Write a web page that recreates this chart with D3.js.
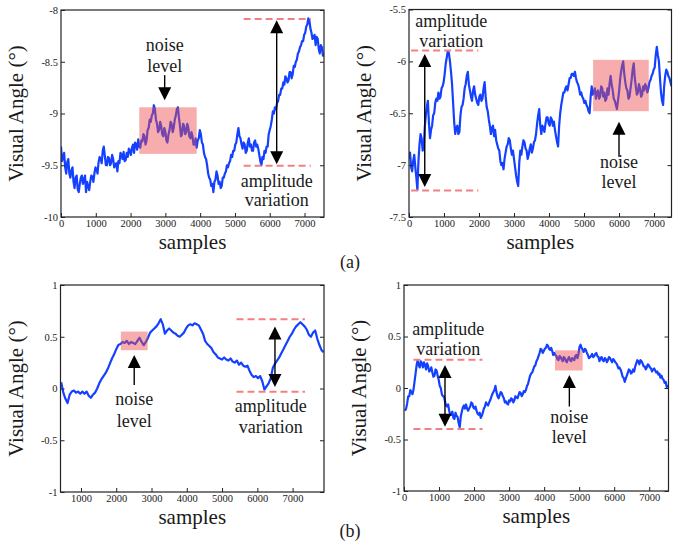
<!DOCTYPE html>
<html>
<head>
<meta charset="utf-8">
<script src="https://cdn.jsdelivr.net/npm/d3@7"></script>
<style>
  html, body { margin: 0; padding: 0; background: #fff; }
  svg { display: block; }
  text { font-family: "Liberation Serif", "Times New Roman", serif; fill: #1a1a1a; }
</style>
</head>
<body>
<svg id="chart" width="680" height="547"></svg>
<script>
// (a) top-left trace, every 30 samples from sample 0
const traceA1 = [
  -9.32,-9.46,-9.42,-9.38,-9.52,-9.58,-9.47,-9.44,-9.58,-9.62,-9.55,-9.52,-9.66,-9.72,-9.62,-9.60,-9.73,-9.76,-9.68,-9.62,
  -9.60,-9.68,-9.64,-9.60,-9.76,-9.66,-9.70,-9.74,-9.66,-9.60,-9.61,-9.66,-9.58,-9.52,-9.54,-9.58,-9.47,-9.42,-9.44,-9.48,
  -9.36,-9.32,-9.41,-9.50,-9.50,-9.42,-9.43,-9.50,-9.48,-9.40,-9.44,-9.52,-9.50,-9.48,-9.56,-9.46,-9.48,-9.38,-9.40,-9.44,
  -9.37,-9.46,-9.45,-9.38,-9.42,-9.34,-9.36,-9.40,-9.33,-9.30,-9.38,-9.28,-9.30,-9.35,-9.25,-9.32,-9.33,-9.26,-9.27,-9.20,
  -9.22,-9.30,-9.26,-9.16,-9.14,-9.06,-9.08,-9.02,-9.00,-8.92,-8.96,-9.06,-9.10,-9.18,-9.16,-9.08,-9.12,-9.20,-9.22,-9.14,
  -9.18,-9.26,-9.28,-9.20,-9.16,-9.08,-9.10,-9.18,-9.14,-9.06,-9.02,-8.96,-8.94,-9.04,-9.12,-9.22,-9.20,-9.10,-9.12,-9.20,
  -9.18,-9.10,-9.14,-9.22,-9.24,-9.18,-9.22,-9.30,-9.30,-9.24,-9.33,-9.26,-9.24,-9.16,-9.20,-9.28,-9.30,-9.38,-9.42,-9.44,
  -9.50,-9.58,-9.62,-9.64,-9.70,-9.68,-9.76,-9.66,-9.64,-9.56,-9.60,-9.68,-9.66,-9.72,-9.70,-9.62,-9.62,-9.58,-9.56,-9.50,
  -9.52,-9.48,-9.46,-9.40,-9.42,-9.36,-9.36,-9.30,-9.28,-9.20,-9.14,-9.22,-9.24,-9.30,-9.34,-9.28,-9.30,-9.38,-9.36,-9.28,
  -9.24,-9.32,-9.30,-9.36,-9.36,-9.28,-9.26,-9.32,-9.30,-9.34,-9.40,-9.46,-9.50,-9.42,-9.44,-9.36,-9.38,-9.32,-9.32,-9.20,
  -9.16,-9.12,-9.06,-8.98,-9.00,-8.94,-8.96,-8.90,-8.88,-8.82,-8.82,-8.76,-8.76,-8.70,-8.72,-8.64,-8.66,-8.70,-8.68,-8.60,
  -8.60,-8.66,-8.62,-8.54,-8.55,-8.50,-8.48,-8.42,-8.40,-8.36,-8.34,-8.30,-8.30,-8.24,-8.22,-8.16,-8.14,-8.08,-8.10,-8.18,
  -8.22,-8.28,-8.26,-8.24,-8.34,-8.26,-8.28,-8.38,-8.42,-8.34,-8.36,-8.44,-8.44];

// (a) top-right trace, every 30 samples from sample 0
const traceA2 = [
  -6.94,-6.88,-7.02,-7.06,-6.96,-6.90,-7.02,-7.12,-7.24,-6.96,-6.80,-6.70,-6.74,-6.86,-6.84,-6.64,-6.52,-6.44,-6.38,-6.60,
  -6.74,-6.66,-6.62,-6.52,-6.50,-6.40,-6.36,-6.38,-6.30,-6.36,-6.34,-6.26,-6.24,-6.20,-6.12,-6.02,-5.96,-5.90,-5.92,-6.00,
  -6.10,-6.22,-6.40,-6.58,-6.70,-6.64,-6.62,-6.70,-6.68,-6.52,-6.44,-6.42,-6.36,-6.26,-6.22,-6.14,-6.10,-6.22,-6.28,-6.34,
  -6.38,-6.28,-6.24,-6.32,-6.36,-6.40,-6.42,-6.34,-6.32,-6.38,-6.36,-6.26,-6.20,-6.34,-6.44,-6.48,-6.56,-6.62,-6.70,-6.64,
  -6.62,-6.72,-6.66,-6.76,-6.80,-6.84,-6.86,-6.96,-7.00,-6.98,-7.04,-6.94,-6.88,-6.82,-6.80,-6.74,-6.76,-6.84,-6.90,-6.86,
  -6.94,-7.02,-7.10,-7.16,-7.20,-6.98,-6.86,-6.90,-6.82,-6.76,-6.78,-6.84,-6.86,-6.94,-6.90,-6.84,-6.80,-6.88,-6.84,-6.78,
  -6.76,-6.70,-6.60,-6.52,-6.46,-6.62,-6.70,-6.62,-6.64,-6.68,-6.60,-6.54,-6.54,-6.60,-6.62,-6.54,-6.56,-6.62,-6.58,-6.66,
  -6.72,-6.78,-6.82,-6.62,-6.50,-6.42,-6.36,-6.30,-6.30,-6.26,-6.24,-6.28,-6.22,-6.16,-6.16,-6.12,-6.12,-6.14,-6.10,-6.16,
  -6.20,-6.22,-6.26,-6.32,-6.30,-6.34,-6.36,-6.40,-6.38,-6.42,-6.44,-6.48,-6.50,-6.34,-6.24,-6.32,-6.30,-6.26,-6.36,-6.30,
  -6.28,-6.36,-6.34,-6.24,-6.26,-6.34,-6.30,-6.38,-6.36,-6.26,-6.32,-6.22,-6.14,-6.22,-6.28,-6.36,-6.38,-6.42,-6.46,-6.38,
  -6.30,-6.18,-6.10,-6.04,-6.00,-6.12,-6.20,-6.26,-6.28,-6.36,-6.34,-6.26,-6.18,-6.08,-6.02,-6.16,-6.24,-6.32,-6.30,-6.22,
  -6.26,-6.34,-6.32,-6.24,-6.28,-6.22,-6.24,-6.30,-6.26,-6.20,-6.18,-6.14,-6.12,-6.08,-6.06,-5.94,-5.86,-5.94,-6.00,-6.16,
  -6.30,-6.38,-6.42,-6.24,-6.14,-6.08,-6.10,-6.14,-6.16,-6.20,-6.24];

// (b) bottom-left trace, every 60 samples from sample 440
const traceB1 = [
  0.06,-0.04,-0.10,-0.14,-0.06,-0.03,-0.02,-0.04,-0.03,-0.05,-0.03,-0.05,-0.03,-0.07,-0.09,-0.06,-0.04,0.00,0.05,0.09,
  0.12,0.15,0.19,0.24,0.29,0.33,0.38,0.42,0.43,0.45,0.44,0.46,0.43,0.45,0.44,0.43,0.46,0.49,0.45,0.42,
  0.45,0.49,0.54,0.56,0.58,0.60,0.63,0.67,0.62,0.53,0.56,0.58,0.56,0.54,0.53,0.51,0.50,0.52,0.54,0.58,
  0.61,0.62,0.61,0.63,0.62,0.61,0.57,0.53,0.46,0.43,0.41,0.39,0.35,0.33,0.30,0.29,0.28,0.30,0.28,0.27,
  0.29,0.26,0.25,0.27,0.23,0.25,0.22,0.21,0.22,0.17,0.13,0.11,0.12,0.10,0.12,0.07,-0.01,0.02,0.05,0.10,
  0.20,0.24,0.27,0.30,0.34,0.38,0.42,0.46,0.50,0.53,0.57,0.60,0.62,0.64,0.62,0.60,0.57,0.52,0.50,0.54,
  0.56,0.48,0.42,0.37,0.35];

// (b) bottom-right trace, every 30 samples from sample 30
const traceB2 = [
  -0.22,-0.20,-0.15,-0.08,-0.08,-0.02,-0.04,-0.06,-0.02,0.06,0.14,0.22,0.27,0.22,0.20,0.26,0.24,0.20,0.25,0.22,
  0.18,0.24,0.21,0.16,0.17,0.20,0.15,0.11,0.12,0.18,0.17,0.12,0.08,0.02,0.00,-0.06,-0.08,-0.08,-0.13,-0.17,
  -0.18,-0.16,-0.22,-0.26,-0.26,-0.23,-0.29,-0.30,-0.24,-0.27,-0.28,-0.34,-0.38,-0.28,-0.23,-0.19,-0.17,-0.20,-0.16,-0.20,
  -0.22,-0.20,-0.18,-0.14,-0.15,-0.19,-0.20,-0.18,-0.22,-0.25,-0.26,-0.24,-0.29,-0.27,-0.24,-0.20,-0.18,-0.14,-0.16,-0.17,
  -0.14,-0.12,-0.09,-0.06,-0.04,-0.02,0.02,-0.04,-0.08,-0.10,-0.07,-0.04,-0.05,-0.08,-0.10,-0.14,-0.13,-0.15,-0.16,-0.12,
  -0.13,-0.10,-0.11,-0.14,-0.12,-0.08,-0.09,-0.10,-0.07,-0.04,-0.05,-0.08,-0.06,-0.03,-0.04,-0.02,0.02,0.04,0.08,0.12,
  0.14,0.15,0.18,0.21,0.22,0.26,0.28,0.31,0.34,0.38,0.37,0.34,0.36,0.38,0.39,0.42,0.41,0.38,0.37,0.39,
  0.36,0.32,0.34,0.32,0.31,0.28,0.27,0.31,0.30,0.28,0.26,0.30,0.29,0.26,0.25,0.28,0.30,0.27,0.26,0.29,
  0.28,0.27,0.31,0.32,0.29,0.33,0.40,0.42,0.39,0.37,0.35,0.38,0.37,0.34,0.32,0.29,0.30,0.31,0.33,0.30,
  0.31,0.33,0.34,0.31,0.30,0.26,0.29,0.30,0.27,0.26,0.29,0.28,0.25,0.27,0.30,0.29,0.27,0.25,0.28,0.27,
  0.25,0.24,0.22,0.19,0.20,0.18,0.15,0.11,0.10,0.06,0.09,0.12,0.15,0.18,0.17,0.14,0.15,0.18,0.16,0.21,
  0.24,0.27,0.26,0.23,0.27,0.26,0.24,0.21,0.21,0.18,0.20,0.23,0.22,0.20,0.19,0.16,0.18,0.19,0.17,0.15,
  0.16,0.13,0.14,0.10,0.12,0.09,0.08,0.05,0.06,0.01,0.03];

const traceStarts = [0, 0, 440, 30];
const traceSteps = [30, 30, 60, 30];

// Axis ticks
const xTicksA1 = [0,1000,2000,3000,4000,5000,6000,7000];
const xTicksA2 = [0,1000,2000,3000,4000,5000,6000,7000];
const xTicksB1 = [1000,2000,3000,4000,5000,6000,7000];
const xTicksB2 = [0,1000,2000,3000,4000,5000,6000,7000];
const yTicksA1 = [-10,-9.5,-9,-8.5,-8];
const yTicksA2 = [-7.5,-7,-6.5,-6,-5.5];
const yTicksB  = [-1,-0.5,0,0.5,1];

// Axis extents
const xDomains = [[0,7560],[0,7500],[420,7890],[0,7550]];
const yDomains = [[-10,-8],[-7.5,-5.5],[-1,1],[-1,1]];

// Noise-level boxes: [x0, x1, y0, y1]
const noiseBoxes = [[2250,3900,-9.39,-8.94],[5260,6850,-6.48,-5.985],[2130,2890,0.37,0.55],[4310,5100,0.17,0.366]];
// Amplitude guides: [x0, x1, yHigh, yLow, arrowX]
const ampGuides = [[5250,7180,-8.087,-9.506,6200],[60,1980,-5.896,-7.245,450],[5410,7350,0.668,-0.032,6500],[270,2240,0.275,-0.398,1170]];
// Double-arrow tips: [yTop, yBottom]
const ampArrowTips = [[-8.10,-9.49],[-5.93,-7.21],[0.60,0.015],[0.223,-0.376]];
// Text labels: [x, baseline1, baseline2]
const ampText = [[6200,-9.71,-9.894],[1210,-5.666,-5.859],[6380,-0.224,-0.433],[1265,0.515,0.32]];
const noiseText = [[2980,-8.394,-8.597],[6000,-7.028,-7.22],[2510,-0.159,-0.369],[4720,-0.343,-0.537]];
// Single arrow: [x, yFrom, yTip]
const noiseArrows = [[2980,-8.629,-8.871],[6000,-6.919,-6.581],[2510,0.034,0.324],[4720,-0.18,0.126]];

const traces = [traceA1, traceA2, traceB1, traceB2];
const xTicksAll = [xTicksA1, xTicksA2, xTicksB1, xTicksB2];
const yTicksAll = [yTicksA1, yTicksA2, yTicksB, yTicksB];

// Plot frames [left, right, top, bottom]
const frames = [[61,324,10,217],[409,671.5,9.5,217],[60.5,324,285,492],[404,668.5,285,491]];

const svg = d3.select("#chart");
const defs = svg.append("defs");

function arrowHead(g, x, yTip, dir) {
  // dir = +1 pointing down, -1 pointing up
  const w = 6.5, h = 13;
  g.append("path")
    .attr("d", `M${x},${yTip} L${x - w},${yTip - dir * h} L${x + w},${yTip - dir * h} Z`)
    .attr("fill", "#000");
}

frames.forEach((f, i) => {
  const [L, R, T, B] = f;
  const x = d3.scaleLinear().domain(xDomains[i]).range([L, R]);
  const y = d3.scaleLinear().domain(yDomains[i]).range([B, T]);
  const g = svg.append("g");

  const clipId = "clip" + i;
  defs.append("clipPath").attr("id", clipId)
    .append("rect").attr("x", L).attr("y", T).attr("width", R - L).attr("height", B - T);

  // Gaze trace
  const data = traces[i].map((v, k) => [traceStarts[i] + k * traceSteps[i], v]);
  g.append("path")
    .datum(data)
    .attr("clip-path", `url(#${clipId})`)
    .attr("fill", "none")
    .attr("stroke", "#1440ff")
    .attr("stroke-width", 2.2)
    .attr("stroke-linejoin", "round")
    .attr("d", d3.line().x(d => x(d[0])).y(d => y(d[1])));

  // Noise-level box
  const nb = noiseBoxes[i];
  g.append("rect")
    .attr("x", x(nb[0])).attr("y", y(nb[3]))
    .attr("width", x(nb[1]) - x(nb[0])).attr("height", y(nb[2]) - y(nb[3]))
    .attr("fill", "#ee4a4a").attr("fill-opacity", 0.45);

  // Amplitude guides
  const ag = ampGuides[i];
  [ag[2], ag[3]].forEach(v => {
    g.append("line")
      .attr("x1", x(ag[0])).attr("x2", x(ag[1]))
      .attr("y1", y(v)).attr("y2", y(v))
      .attr("stroke", "#f28080").attr("stroke-width", 2)
      .attr("stroke-dasharray", "7,4");
  });
  const tips = ampArrowTips[i];
  const ax = x(ag[4]);
  g.append("line")
    .attr("x1", ax).attr("x2", ax)
    .attr("y1", y(tips[0]) + 10).attr("y2", y(tips[1]) - 10)
    .attr("stroke", "#000").attr("stroke-width", 1.4);
  arrowHead(g, ax, y(tips[0]), -1);
  arrowHead(g, ax, y(tips[1]), 1);

  // Noise arrow
  const na = noiseArrows[i];
  const nx = x(na[0]);
  const dir = y(na[2]) > y(na[1]) ? 1 : -1;
  g.append("line")
    .attr("x1", nx).attr("x2", nx)
    .attr("y1", y(na[1])).attr("y2", y(na[2]) - dir * 10)
    .attr("stroke", "#000").attr("stroke-width", 1.4);
  arrowHead(g, nx, y(na[2]), dir);

  // Annotation text
  const at = ampText[i];
  g.append("text").attr("x", x(at[0])).attr("y", y(at[1]))
    .attr("text-anchor", "middle").attr("font-size", 18).text("amplitude");
  g.append("text").attr("x", x(at[0])).attr("y", y(at[2]))
    .attr("text-anchor", "middle").attr("font-size", 18).text("variation");
  const nt = noiseText[i];
  g.append("text").attr("x", x(nt[0])).attr("y", y(nt[1]))
    .attr("text-anchor", "middle").attr("font-size", 18).text("noise");
  g.append("text").attr("x", x(nt[0])).attr("y", y(nt[2]))
    .attr("text-anchor", "middle").attr("font-size", 18).text("level");

  // Axes (ticks point inward)
  const xa = g.append("g").attr("transform", `translate(0,${B})`)
    .call(d3.axisBottom(x).tickValues(xTicksAll[i]).tickSize(-4).tickSizeOuter(0).tickPadding(3).tickFormat(d3.format("d")));
  const ya = g.append("g").attr("transform", `translate(${L},0)`)
    .call(d3.axisLeft(y).tickValues(yTicksAll[i]).tickSize(-4).tickSizeOuter(0).tickPadding(3).tickFormat(d => String(d)));
  const yr = g.append("g").attr("transform", `translate(${R},0)`)
    .call(d3.axisRight(y).tickValues(yTicksAll[i]).tickSize(-4).tickSizeOuter(0).tickFormat(""));
  [xa, ya, yr].forEach(a => {
    a.select(".domain").remove();
    a.selectAll(".tick line").attr("stroke", "#222");
    a.selectAll("text").attr("font-size", 10.5).attr("fill", "#1a1a1a")
      .style("font-family", '"Liberation Serif", "Times New Roman", serif');
  });

  // Frame
  g.append("rect").attr("x", L).attr("y", T).attr("width", R - L).attr("height", B - T)
    .attr("fill", "none").attr("stroke", "#222").attr("stroke-width", 1.2);

  // Axis titles
  g.append("text")
    .attr("transform", `translate(${L - 38},${(T + B) / 2}) rotate(-90)`)
    .attr("text-anchor", "middle").attr("font-size", 21)
    .text("Visual Angle (°)");
  g.append("text")
    .attr("x", (L + R) / 2).attr("y", B + 32)
    .attr("text-anchor", "middle").attr("font-size", 21)
    .text("samples");
});

// Row captions
svg.append("text").attr("x", 350).attr("y", 268).attr("text-anchor", "middle").attr("font-size", 18).text("(a)");
svg.append("text").attr("x", 350).attr("y", 537).attr("text-anchor", "middle").attr("font-size", 18).text("(b)");
</script>
</body>
</html>
